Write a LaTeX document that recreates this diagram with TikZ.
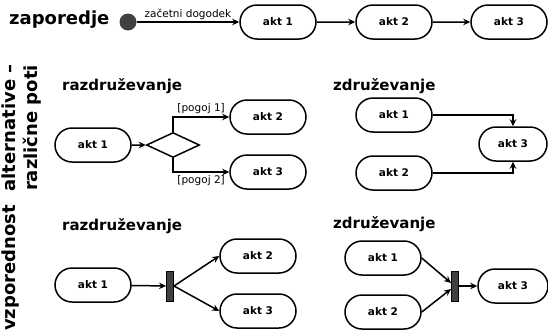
\documentclass[tikz,border=0pt]{standalone}
\usepackage{fontspec}
\setmainfont{DejaVu Sans}
\usetikzlibrary{arrows.meta,shapes.geometric,shapes.misc}
\definecolor{dgray}{HTML}{404040}
\begin{document}
\begin{tikzpicture}[x=1pt,y=-1pt,
  act/.style={draw,line width=1.5pt,rounded rectangle,minimum width=76pt,minimum height=34pt,inner sep=0pt,font=\fontsize{10.5}{12}\selectfont\bfseries},
  arr/.style={line width=1.5pt,-{Stealth[length=7pt,width=6.5pt]}},
  big/.style={inner sep=0pt,font=\fontsize{18}{22}\selectfont\bfseries},
  head/.style={inner sep=0pt,anchor=west,font=\fontsize{15}{18}\selectfont\bfseries},
  small/.style={inner sep=0pt,font=\fontsize{10.5}{12}\selectfont},
  syncbar/.style={draw,line width=1pt,fill=dgray,minimum width=7pt,minimum height=30pt,inner sep=0pt}]
\useasboundingbox (0,0) rectangle (548,335);

% row 1: zaporedje
\node[big,anchor=west] (zap) at (9,20) {zaporedje};
\node[circle,fill=dgray,minimum size=17pt,inner sep=0pt] (start) at (128,22) {};
\node[act] (r1a) at (278,22) {akt 1};
\node[act] (r1b) at (394,22) {akt 2};
\node[act] (r1c) at (509,22) {akt 3};
\draw[arr] (start) -- node[small,above=2pt] {začetni dogodek} (r1a);
\draw[arr] (r1a) -- (r1b);
\draw[arr] (r1b) -- (r1c);

% side labels
\node[big,rotate=90,align=center] (alt) at (22,128) {alternative –\\različne poti};
\node[big,rotate=90] (vzp) at (11,268) {vzporednost};

% headings
\node[head] (h1) at (62,86) {razdruževanje};
\node[head] (h2) at (333,86) {združevanje};
\node[head] (h3) at (62,226) {razdruževanje};
\node[head] (h4) at (333,224) {združevanje};

% row 2 left
\node[act] (a1) at (93,145) {akt 1};
\node[draw,diamond,line width=1.5pt,minimum width=53pt,minimum height=25pt,inner sep=0pt] (dec) at (173,145) {};
\node[act] (a2) at (268,117) {akt 2};
\node[act] (a3) at (268,172) {akt 3};
\draw[arr] (a1) -- (dec);
\draw[arr] (dec.north) |- node[small,pos=0.75,above=3pt] {[pogoj 1]} (a2.west);
\draw[arr] (dec.south) |- node[small,pos=0.75,below=3pt] {[pogoj 2]} (a3.west);

% row 2 right
\node[act] (b1) at (394,115) {akt 1};
\node[act] (b2) at (394,173) {akt 2};
\node[act,minimum width=68pt] (b3) at (513,144) {akt 3};
\draw[arr] (b1.east) -| (b3.north);
\draw[arr] (b2.east) -| (b3.south);

% row 3 left
\node[act] (c1) at (93,285) {akt 1};
\node[syncbar] (bar1) at (170,286) {};
\node[act] (c2) at (258,256) {akt 2};
\node[act] (c3) at (258,311) {akt 3};
\draw[arr] (c1) -- (bar1);
\draw[arr] (bar1.east) -- (c2.west);
\draw[arr] (bar1.east) -- (c3.west);

% row 3 right
\node[act] (e1) at (383,258) {akt 1};
\node[act] (e2) at (383,312) {akt 2};
\node[syncbar] (bar2) at (455,286) {};
\node[act,minimum width=70pt] (e3) at (513,286) {akt 3};
\draw[arr] (e1.east) -- ([yshift=3pt]bar2.west);
\draw[arr] (e2.east) -- ([yshift=-3pt]bar2.west);
\draw[arr] (bar2) -- (e3);
\end{tikzpicture}
\end{document}
